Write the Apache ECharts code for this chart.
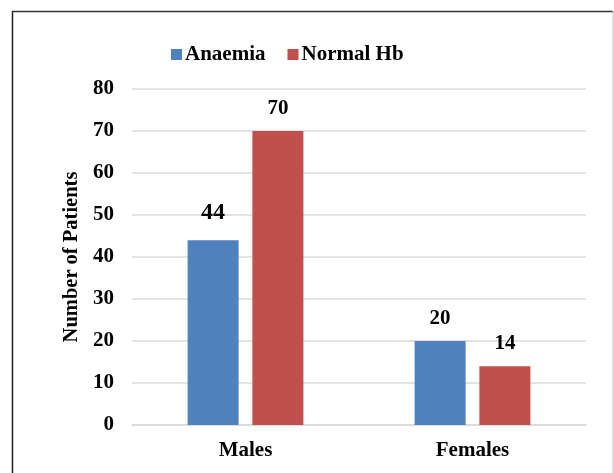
<!DOCTYPE html>
<html>
<head>
<meta charset="utf-8">
<script src="https://cdn.jsdelivr.net/npm/echarts@6/dist/echarts.min.js"></script>
<style>
html,body{margin:0;padding:0;background:#fff;}
#chart{width:614px;height:473px;}
</style>
</head>
<body>
<div id="chart"></div>
<script>
var categories = ['Males', 'Females'];
var anaemia = [44, 20];
var normalHb = [70, 14];
var seriesNames = ['Anaemia', 'Normal Hb'];
var yTicks = [0, 10, 20, 30, 40, 50, 60, 70, 80];

var FONT = "'Liberation Serif', 'Times New Roman', serif";
var chart = echarts.init(document.getElementById('chart'));

function labelFor(v, idx, seriesIdx) {
  var big = (seriesIdx === 0 && idx === 0);
  return {
    value: v,
    label: {
      show: true,
      position: 'top',
      distance: big ? 15 : 12,
      fontSize: big ? 24 : 21,
      fontWeight: 'bold',
      fontFamily: FONT,
      color: '#000'
    }
  };
}

chart.setOption({
  animation: false,
  backgroundColor: '#fff',
  graphic: [
    {type: 'line', shape: {x1: 12, y1: 11.5, x2: 613, y2: 11.5}, style: {stroke: '#333', lineWidth: 1.5}},
    {type: 'line', shape: {x1: 12.5, y1: 11, x2: 12.5, y2: 473}, style: {stroke: '#222', lineWidth: 1.5}},
    {type: 'line', shape: {x1: 613, y1: 11, x2: 613, y2: 473}, style: {stroke: '#bbb', lineWidth: 1}}
  ],
  legend: {
    data: seriesNames,
    left: 166,
    top: 39,
    icon: 'rect',
    itemWidth: 11,
    itemHeight: 11,
    itemGap: 22,
    textStyle: {fontFamily: FONT, fontWeight: 'bold', fontSize: 21, color: '#000', padding: [0, 0, 0, -2]}
  },
  grid: {left: 132, right: 28, top: 89, bottom: 48},
  xAxis: {
    type: 'category',
    data: categories,
    axisLine: {show: true, lineStyle: {color: '#d9d9d9', width: 1.5}},
    axisTick: {show: false},
    axisLabel: {fontFamily: FONT, fontWeight: 'bold', fontSize: 21, color: '#000', margin: 15}
  },
  yAxis: {
    type: 'value',
    min: yTicks[0],
    max: yTicks[yTicks.length - 1],
    interval: 10,
    name: 'Number of Patients',
    nameLocation: 'middle',
    nameGap: 47,
    nameRotate: 90,
    nameTextStyle: {fontFamily: FONT, fontWeight: 'bold', fontSize: 20.5, color: '#000'},
    axisLine: {show: false},
    axisTick: {show: false},
    axisLabel: {fontFamily: FONT, fontWeight: 'bold', fontSize: 21, color: '#000', margin: 18},
    splitLine: {lineStyle: {color: '#d9d9d9', width: 1.5}}
  },
  series: [
    {
      name: seriesNames[0],
      type: 'bar',
      barWidth: 51,
      barGap: '27%',
      itemStyle: {color: '#4F81BD'},
      data: anaemia.map(function (v, i) { return labelFor(v, i, 0); })
    },
    {
      name: seriesNames[1],
      type: 'bar',
      barWidth: 51,
      itemStyle: {color: '#C0504D'},
      data: normalHb.map(function (v, i) { return labelFor(v, i, 1); })
    }
  ]
});
</script>
</body>
</html>
